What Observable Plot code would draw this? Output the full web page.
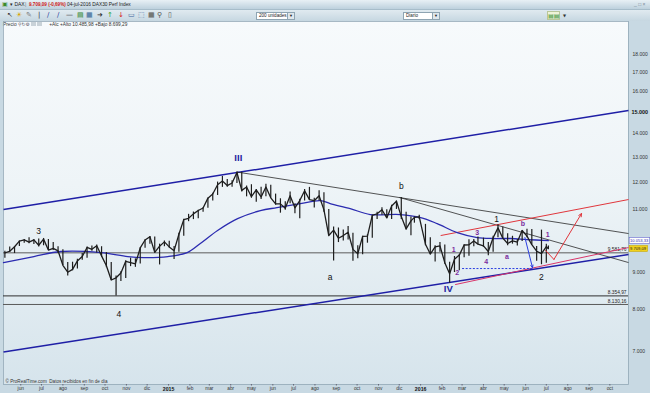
<!DOCTYPE html>
<html>
<head>
<meta charset="utf-8">
<script src="https://cdn.jsdelivr.net/npm/d3@7"></script>
<script src="https://cdn.jsdelivr.net/npm/@observablehq/plot@0.6"></script>
<style>
html,body{margin:0;padding:0;background:#c8d9e3;}
#wrap{position:relative;width:650px;height:393px;overflow:hidden;background:#c8d9e3;font-family:"Liberation Sans",Arial,sans-serif;}
.bar{position:absolute;left:0;width:650px;}
#title{top:0;height:10px;background:linear-gradient(#e8f0f5,#bdd1dd);border-bottom:1px solid #a7bdca;box-sizing:border-box;}
#toolbar{top:10px;height:11px;background:linear-gradient(#e0eaf0,#c6d7e1);}
.t{position:absolute;white-space:nowrap;font-size:5px;line-height:9px;color:#222;}
.ic{position:absolute;font-size:7px;line-height:11px;top:0;font-family:"DejaVu Sans",sans-serif;}
.dd{position:absolute;top:2px;height:6px;background:#fff;border:1px solid #8ea4b2;font-size:4.6px;line-height:6px;padding-left:2px;color:#222;box-sizing:content-box;}
.dd b{position:absolute;right:0;top:0;width:6px;height:6px;background:#dfe7ec;border-left:1px solid #8ea4b2;font-size:4px;text-align:center;font-weight:normal;}
#plotbg{position:absolute;left:3px;top:21px;width:625px;height:363px;background:linear-gradient(180deg,#f7fafc 0%,#eef4f7 45%,#d6e4ec 100%);}
#info{position:absolute;left:3px;top:22px;font-size:4.8px;line-height:6px;color:#333;white-space:nowrap;}
#chart{position:absolute;left:0;top:21px;}
</style>
</head>
<body>
<div id="wrap">
  <div id="title" class="bar">
    <span class="t" style="left:2px;color:#3a8a2a;font-size:6px;">&#9635;</span>
    <span class="t" style="left:10px;">&#9662; DAX</span>
    <span class="t" style="left:25px;color:#777;">|</span>
    <span class="t" style="left:29px;color:#d01515;font-weight:bold;font-size:4.6px;">9.709,09 (-0,69%)</span>
    <span class="t" style="left:67px;font-size:4.8px;">04-jul-2016 DAX30 Perf Index</span>
    <span class="t" style="left:634px;color:#7a8c98;">_ &#9633; &#215;</span>
  </div>
  <div id="toolbar" class="bar">
    <span class="ic" style="left:7px;color:#333;">&#8598;</span>
    <span class="ic" style="left:16px;color:#d9a400;">&#9728;</span>
    <span class="ic" style="left:26px;color:#777;">&#9998;</span>
    <span class="ic" style="left:38px;color:#333;">|</span>
    <span class="ic" style="left:47px;color:#2a3f9a;">&#8725;</span>
    <span class="ic" style="left:57px;color:#2a3f9a;">&#8725;</span>
    <span class="ic" style="left:66px;color:#333;">&#8212;</span>
    <span class="ic" style="left:77px;color:#3a8a3a;">&#9636;</span>
    <span class="ic" style="left:86px;color:#3a6a9a;">&#9638;</span>
    <span class="ic" style="left:97px;color:#333;">&#10140;</span>
    <span class="ic" style="left:107px;color:#2ca02c;">&#8593;</span>
    <span class="ic" style="left:118px;color:#d62020;">&#8595;</span>
    <span class="ic" style="left:128px;color:#3a5f9a;">&#9645;</span>
    <span class="ic" style="left:138px;color:#3a5f9a;">&#11034;</span>
    <span class="ic" style="left:148px;color:#555;">&#9638;</span>
    <span class="ic" style="left:157px;color:#555;">&#9906;</span>
    <span class="ic" style="left:168px;color:#555;">&#9647;</span>
    <div class="dd" style="left:256px;width:35px;">200 unidades<b>&#9660;</b></div>
    <div class="dd" style="left:403px;width:33px;">Diario<b>&#9660;</b></div>
    <span class="ic" style="left:547px;color:#2a8a2a;font-size:6px;background:#eef3d8;border:1px solid #b9c79a;line-height:7px;top:1px;">&#9636;&#9636;</span>
    <span class="ic" style="left:563px;color:#333;font-size:4px;">&#9660;</span>
  </div>
  <div id="plotbg"></div>
  <div id="info">Precio <span style="color:#556;font-family:'DejaVu Sans';">&#9906;&#8635;&#9881;</span> <span style="display:inline-block;width:5px;height:4px;background:#c9d2d8;"></span> <span style="display:inline-block;width:5px;height:4px;background:#c9d2d8;"></span> &nbsp; &nbsp; +Alc +Alto 10.485,98 +Bajo 8.699,29</div>
  <div id="chart"></div>
</div>
<script>
// ---------------- DATA ----------------
// weekly bars (week ending date), DAX
const weekDates = [
"2014-05-09","2014-05-16","2014-05-23","2014-05-30","2014-06-06","2014-06-13","2014-06-20","2014-06-27","2014-07-04","2014-07-11","2014-07-18","2014-07-25","2014-08-01","2014-08-08","2014-08-15","2014-08-22","2014-08-29","2014-09-05","2014-09-12","2014-09-19","2014-09-26","2014-10-03","2014-10-10","2014-10-17","2014-10-24","2014-10-31","2014-11-07","2014-11-14","2014-11-21","2014-11-28","2014-12-05","2014-12-12","2014-12-19","2014-12-26",
"2015-01-02","2015-01-09","2015-01-16","2015-01-23","2015-01-30","2015-02-06","2015-02-13","2015-02-20","2015-02-27","2015-03-06","2015-03-13","2015-03-20","2015-03-27","2015-04-03","2015-04-10","2015-04-17","2015-04-24","2015-05-01","2015-05-08","2015-05-15","2015-05-22","2015-05-29","2015-06-05","2015-06-12","2015-06-19","2015-06-26","2015-07-03","2015-07-10","2015-07-17","2015-07-24","2015-07-31","2015-08-07","2015-08-14","2015-08-21","2015-08-28","2015-09-04","2015-09-11","2015-09-18","2015-09-25","2015-10-02","2015-10-09","2015-10-16","2015-10-23","2015-10-30","2015-11-06","2015-11-13","2015-11-20","2015-11-27","2015-12-04","2015-12-11","2015-12-18","2015-12-23","2015-12-30",
"2016-01-08","2016-01-15","2016-01-22","2016-01-29","2016-02-05","2016-02-12","2016-02-19","2016-02-26","2016-03-04","2016-03-11","2016-03-18","2016-03-24","2016-04-01","2016-04-08","2016-04-15","2016-04-22","2016-04-29","2016-05-06","2016-05-13","2016-05-20","2016-05-27","2016-06-03","2016-06-10","2016-06-17","2016-06-24","2016-07-01","2016-07-04"];
const weekHigh = [
9631,9762,9770,9950,10000,10050,10000,10010,10030,10000,9900,9770,9680,9290,9300,9390,9560,9760,9790,9820,9770,9590,9290,8900,9020,9340,9420,9400,9740,9990,10090,10080,9850,9950,
9940,9780,10200,10660,10830,10910,10970,11060,11410,11580,12000,12220,12100,12050,12390,12380,11850,11900,11720,11800,11920,11880,11550,11380,11270,11630,11200,11360,11720,11800,11400,11670,11600,11000,10400,10370,10300,10420,10200,9800,10100,10150,10800,10900,11060,10990,11150,11300,11430,10900,10740,10740,10800,
10490,10050,9800,9900,9820,9300,9470,9520,9830,9990,10000,10080,10040,9900,10100,10474,10400,10180,10100,10000,10290,10330,10320,9780,10300,9850,9790];
const weekLow = [
9420,9590,9560,9780,9880,9860,9840,9760,9800,9660,9650,9560,9200,8903,9050,9100,9360,9420,9630,9580,9450,9140,8780,8355,8750,8830,9170,9150,9250,9720,9850,9580,9220,9770,
9730,9380,9600,10100,10580,10650,10680,10900,11040,11300,11500,11800,11800,11800,11950,11630,11450,11400,11250,11350,11450,11400,11150,10870,10970,11200,10850,10680,11300,11330,11050,11300,10900,10120,9338,9900,9950,9980,9325,9400,9520,9880,10040,10650,10800,10690,10650,11000,10650,10300,10120,10530,10650,
9800,9520,9310,9600,9240,8699,9000,9050,9430,9480,9770,9830,9750,9490,9600,10050,10030,9800,9850,9790,9930,10050,9820,9330,9226,9270,9690];
const weekClose = [
9581,9630,9768,9943,9987,9912,9987,9815,10009,9666,9720,9644,9210,9009,9092,9339,9470,9747,9691,9799,9490,9195,8788,8850,8988,9326,9291,9252,9732,9980,10087,9594,9787,9922,
9764,9648,10167,10649,10694,10846,10963,11050,11402,11551,11901,12040,11868,11967,12375,11689,11811,11454,11709,11447,11815,11413,11197,11197,11041,11492,11058,11316,11673,11347,11309,11490,10985,10124,10298,10038,10123,10229,9688,9553,10096,10104,10794,10850,10988,10708,11119,11293,10752,10340,10608,10727,10743,
9849,9545,9764,9798,9286,8967,9388,9513,9824,9831,9950,9851,9794,9622,10051,10373,10039,9870,9952,9916,10286,10103,9834,9631,9558,9776,9709];

// blue moving average
const maDates = ["2014-05-07","2014-06-20","2014-07-29","2014-09-25","2014-11-03","2014-11-26","2014-12-31","2015-01-28","2015-02-16","2015-03-13","2015-04-11","2015-05-14","2015-06-07","2015-07-11","2015-08-09","2015-08-23","2015-09-21","2015-10-20","2015-12-02","2016-01-01","2016-01-25","2016-02-23","2016-03-23","2016-04-15","2016-05-10","2016-06-03","2016-07-04"];
const maValues = [9290,9469,9622,9590,9469,9439,9469,9590,9870,10289,10684,10960,11064,11206,11315,11206,11029,10823,10823,10719,10515,10218,10059,10028,10028,9996,9960];

// trend lines: start / end
const trendNames  = ["upperBlue","lowerBlue","blackIII","blackB","redUpper","redLower"];
const trendDate1  = ["2014-05-07","2014-05-07","2015-04-10","2015-12-01","2016-01-30","2016-02-20"];
const trendValue1 = [10994,6990,12390,11430,10123,8661];
const trendDate2  = ["2016-10-28","2016-10-28","2016-10-28","2016-10-28","2016-10-28","2016-10-28"];
const trendValue2 = [15065,9530,10188,9290,11352,9744];

// dashed support and arrows
const dashDates = ["2016-03-01","2016-06-11"];
const dashValue = 9115;
const blueArrowDates = ["2016-05-31","2016-06-11"];
const blueArrowValues = [10059,9141];
const redPathDates = ["2016-06-30","2016-07-12","2016-08-21"];
const redPathValues = [9653,9382,10858];

// horizontal levels
const levelValues = [9581.76,8354.97,8130.16];
const levelLabels = ["9.581,76","8.354,97","8.130,16"];

// wave labels
const waveText  = ["3","4","III","a","b","IV","1","2","1","2","3","4","a","b","1"];
const waveGroup = ["k","k","B","k","k","B","k","k","p","p","p","p","p","p","p"];
const waveDates = ["2014-06-27","2014-10-21","2015-04-12","2015-08-23","2015-12-04","2016-02-10","2016-04-20","2016-06-24","2016-02-18","2016-02-23","2016-03-23","2016-04-05","2016-05-05","2016-05-28","2016-07-03"];
const waveValues = [10257,7876,12972,8857,11832,8555,10647,8857,9680,8995,10218,9317,9470,10515,10157];

// axis ticks
const yTicks = [7000,8000,9000,11000,12000,13000,14000,16000,17000,18000];
const yTickLabels = ["7.000","8.000","9.000","11.000","12.000","13.000","14.000","16.000","17.000","18.000"];
const yBoldTick = [15000];
const yBoldLabel = ["15.000"];
const monthDates = ["2014-06-01","2014-07-01","2014-08-01","2014-09-01","2014-10-01","2014-11-01","2014-12-01","2015-02-01","2015-03-01","2015-04-01","2015-05-01","2015-06-01","2015-07-01","2015-08-01","2015-09-01","2015-10-01","2015-11-01","2015-12-01","2016-02-01","2016-03-01","2016-04-01","2016-05-01","2016-06-01","2016-07-01","2016-08-01","2016-09-01","2016-10-01"];
const monthLabels = ["jun","jul","ago","sep","oct","nov","dic","feb","mar","abr","may","jun","jul","ago","sep","oct","nov","dic","feb","mar","abr","may","jun","jul","ago","sep","oct"];
const yearDates = ["2015-01-01","2016-01-01"];
const yearLabels = ["2015","2016"];

// side value boxes
const maBoxText = "10.053,33";
const priceBoxText = "9.709,09";
const copyright = "© ProRealTime.com  Datos recibidos en fin de día";

// ---------------- BUILD ----------------
const D = s => new Date(s + "T00:00:00Z");
const bars = weekDates.map((d,i) => ({date: D(d), high: weekHigh[i], low: weekLow[i], close: weekClose[i]}));
const ma = maDates.map((d,i) => ({date: D(d), v: maValues[i]}));
const trends = trendNames.map((n,i) => ({name:n, x1:D(trendDate1[i]), y1:trendValue1[i], x2:D(trendDate2[i]), y2:trendValue2[i]}));
const tr = n => trends.filter(t => t.name === n);
const waves = waveText.map((t,i) => ({t, g: waveGroup[i], date: D(waveDates[i]), v: waveValues[i]}));
const levels = levelValues.map((v,i) => ({v, label: levelLabels[i]}));
const yLab = new Map(yTicks.map((v,i) => [v, yTickLabels[i]]));
const mLab = new Map(monthDates.map((d,i) => [+D(d), monthLabels[i]]));
const yrLab = new Map(yearDates.map((d,i) => [+D(d), yearLabels[i]]));
const redPath = redPathDates.map((d,i) => ({date: D(d), v: redPathValues[i]}));

const BLUE = "#1f1fa6", MA = "#2b2bb0", RED = "#e0363c", PURPLE = "#7a2c9e";

const chart = Plot.plot({
  width: 650, height: 372,
  marginTop: 0, marginBottom: 9, marginLeft: 3, marginRight: 22,
  style: {background: "transparent", fontFamily: "Liberation Sans, Arial, sans-serif", overflow: "visible"},
  x: {type: "utc", domain: [D("2014-05-07"), D("2016-10-28")]},
  y: {type: "log", domain: [6303, 20000]},
  marks: [
    Plot.frame({stroke: "#93a9b6", strokeWidth: 0.8}),
    Plot.ruleY(levels.slice(0,1), {y: "v", stroke: "#5c5c5c", strokeWidth: 1}),
    Plot.ruleY(levels.slice(1,2), {y: "v", stroke: "#2e2e2e", strokeWidth: 1}),
    Plot.ruleY(levels.slice(2,3), {y: "v", stroke: "#5a5a5a", strokeWidth: 1}),
    Plot.text(levels, {y: "v", text: "label", frameAnchor: "right", textAnchor: "end", dx: -2, dy: -3, fontSize: 4.8, fill: "#222"}),
    // channel lines
    Plot.link(tr("upperBlue"), {x1: "x1", y1: "y1", x2: "x2", y2: "y2", stroke: BLUE, strokeWidth: 1.5}),
    Plot.link(tr("lowerBlue"), {x1: "x1", y1: "y1", x2: "x2", y2: "y2", stroke: BLUE, strokeWidth: 1.5}),
    Plot.link(tr("blackIII"), {x1: "x1", y1: "y1", x2: "x2", y2: "y2", stroke: "#2a2a2a", strokeWidth: 0.8}),
    Plot.link(tr("blackB"), {x1: "x1", y1: "y1", x2: "x2", y2: "y2", stroke: "#2a2a2a", strokeWidth: 0.8}),
    Plot.link(tr("redUpper"), {x1: "x1", y1: "y1", x2: "x2", y2: "y2", stroke: RED, strokeWidth: 1}),
    Plot.link(tr("redLower"), {x1: "x1", y1: "y1", x2: "x2", y2: "y2", stroke: "#d8356a", strokeWidth: 1}),
    // moving average
    Plot.line(ma, {x: "date", y: "v", stroke: MA, strokeWidth: 1.3, curve: "catmull-rom"}),
    // price bars
    Plot.ruleX(bars, {x: "date", y1: "low", y2: "high", stroke: "#1e1e1e", strokeWidth: 1.2}),
    Plot.line(bars, {x: "date", y: "close", stroke: "#1e1e1e", strokeWidth: 1.3}),
    // dashed support + arrows
    Plot.link([{x1: D(dashDates[0]), x2: D(dashDates[1]), y: dashValue}], {x1: "x1", x2: "x2", y1: "y", y2: "y", stroke: "#2b3ee0", strokeWidth: 1, strokeDasharray: "2,1.6"}),
    Plot.arrow([{x1: D(blueArrowDates[0]), y1: blueArrowValues[0], x2: D(blueArrowDates[1]), y2: blueArrowValues[1]}], {x1: "x1", y1: "y1", x2: "x2", y2: "y2", stroke: "#2b3ee0", strokeWidth: 1, headLength: 4, headAngle: 50}),
    Plot.line(redPath.slice(0,2), {x: "date", y: "v", stroke: RED, strokeWidth: 1}),
    Plot.arrow([{x1: redPath[1].date, y1: redPath[1].v, x2: redPath[2].date, y2: redPath[2].v}], {x1: "x1", y1: "y1", x2: "x2", y2: "y2", stroke: RED, strokeWidth: 1, headLength: 5, headAngle: 50}),
    // wave labels
    Plot.text(waves.filter(w => w.g === "k"), {x: "date", y: "v", text: "t", fill: "#111", fontSize: 8.5}),
    Plot.text(waves.filter(w => w.g === "B"), {x: "date", y: "v", text: "t", fill: "#2323a0", fontSize: 9.5, fontWeight: "bold"}),
    Plot.text(waves.filter(w => w.g === "p"), {x: "date", y: "v", text: "t", fill: PURPLE, fontSize: 7, fontWeight: "bold"}),
    // copyright
    Plot.text([copyright], {text: d => d, frameAnchor: "bottom-left", textAnchor: "start", dx: 2, dy: -2, fontSize: 4.6, fill: "#333"}),
    // side boxes
    Plot.text([{v: maValues[maValues.length-1]}], {y: "v", text: () => maBoxText, frameAnchor: "right", textAnchor: "start", dx: 1.5, fontSize: 4.1, fill: "#2b2bb0", className: "boxma"}),
    Plot.text([{v: weekClose[weekClose.length-1]}], {y: "v", text: () => priceBoxText, frameAnchor: "right", textAnchor: "start", dx: 1.5, fontSize: 4.1, fill: "#222", className: "boxpx"}),
    // axes
    Plot.axisY(yTicks, {anchor: "right", tickSize: 0, tickPadding: 4, fontSize: 5, fill: "#333", tickFormat: v => yLab.get(v)}),
    Plot.axisY(yBoldTick, {anchor: "right", tickSize: 0, tickPadding: 3, fontSize: 5.4, fontWeight: "bold", fill: "#111", tickFormat: () => yBoldLabel[0]}),
    Plot.axisX(monthDates.map(D), {anchor: "bottom", tickSize: 1.5, tickPadding: 1, fontSize: 4.8, fill: "#333", stroke: "#667", tickFormat: d => mLab.get(+d)}),
    Plot.axisX(yearDates.map(D), {anchor: "bottom", tickSize: 1.5, tickPadding: 1, fontSize: 5.2, fontWeight: "bold", fill: "#111", stroke: "#667", tickFormat: d => yrLab.get(+d)})
  ]
});
document.getElementById("chart").appendChild(chart);

// boxes behind the side labels
function boxify(cls, fill, stroke) {
  d3.select(chart).selectAll("g." + cls + " text").each(function() {
    const b = this.getBBox();
    d3.select(this.parentNode).insert("rect", () => this)
      .attr("transform", this.getAttribute("transform"))
      .attr("x", b.x - 0.8).attr("y", b.y - 0.4).attr("width", b.width + 1.6).attr("height", b.height + 0.8)
      .attr("fill", fill).attr("stroke", stroke).attr("stroke-width", 0.6);
  });
}
boxify("boxma", "#ffffff", "#6a6ad0");
boxify("boxpx", "#f2d21c", "#c9a800");
</script>
</body>
</html>
